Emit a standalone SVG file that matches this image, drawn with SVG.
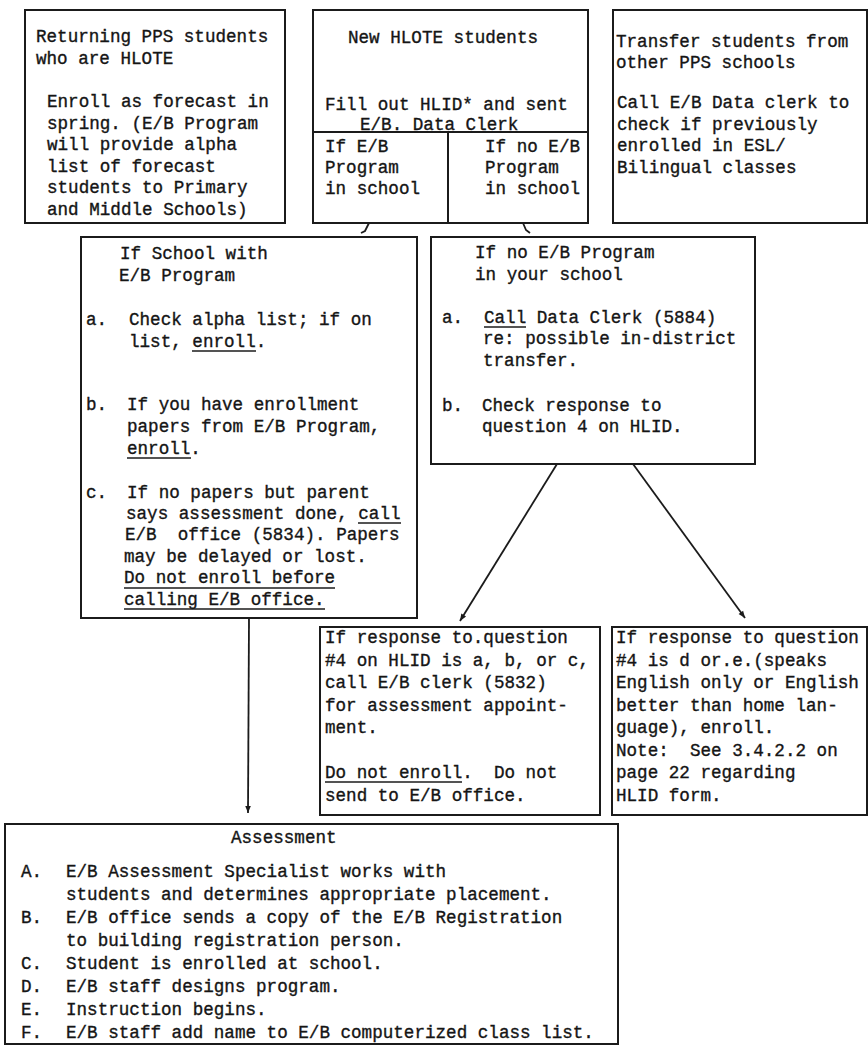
<svg xmlns="http://www.w3.org/2000/svg" width="868" height="1048" viewBox="0 0 868 1048">
<style>
.box{fill:none;stroke:#1b1b1b;stroke-width:2}
.t{font-family:"Liberation Mono","DejaVu Sans Mono",monospace;font-size:17.6px;fill:#151515;stroke:#151515;stroke-width:0.35;white-space:pre}
.u{stroke:#1b1b1b;stroke-width:1.6}
.c{fill:none;stroke:#1b1b1b;stroke-width:1.8}
</style>
<defs>
<marker id="ah" viewBox="0 0 10 10" refX="10" refY="5" markerWidth="9" markerHeight="7" orient="auto" markerUnits="userSpaceOnUse">
<path d="M0,1 L10,5 L0,9 z" fill="#1b1b1b"/>
</marker>
</defs>
<rect width="868" height="1048" fill="#fff"/>

<g id="returning">
<rect class="box" x="25" y="10" width="260" height="213"/>
<text class="t" x="36" y="42">Returning PPS students</text>
<text class="t" x="36" y="64">who are HLOTE</text>
<text class="t" x="47" y="107">Enroll as forecast in</text>
<text class="t" x="47" y="128.5">spring. (E/B Program</text>
<text class="t" x="47" y="150">will provide alpha</text>
<text class="t" x="47" y="171.5">list of forecast</text>
<text class="t" x="47" y="193">students to Primary</text>
<text class="t" x="47" y="214.5">and Middle Schools)</text>
</g>

<g id="new-hlote">
<rect class="box" x="313" y="10" width="275" height="213"/>
<line class="box" x1="313" y1="132" x2="588" y2="132"/>
<line class="box" x1="448" y1="132" x2="448" y2="223"/>
<text class="t" x="348" y="43">New HLOTE students</text>
<text class="t" x="325" y="110">Fill out HLID* and sent</text>
<text class="t" x="360" y="130">E/B. Data Clerk</text>
<text class="t" x="325" y="152">If E/B</text>
<text class="t" x="325" y="173">Program</text>
<text class="t" x="325" y="194">in school</text>
<text class="t" x="485" y="152">If no E/B</text>
<text class="t" x="485" y="173">Program</text>
<text class="t" x="485" y="194">in school</text>
</g>

<g id="transfer">
<rect class="box" x="613" y="10" width="254" height="213"/>
<text class="t" x="616" y="47">Transfer students from</text>
<text class="t" x="616" y="68">other PPS schools</text>
<text class="t" x="617" y="108">Call E/B Data clerk to</text>
<text class="t" x="617" y="130">check if previously</text>
<text class="t" x="617" y="151">enrolled in ESL/</text>
<text class="t" x="617" y="173">Bilingual classes</text>
</g>

<g id="school-with-eb">
<rect class="box" x="81" y="237" width="336" height="381"/>
<text class="t" x="120" y="259">If School with</text>
<text class="t" x="119" y="281">E/B Program</text>
<text class="t" x="86" y="325">a.</text>
<text class="t" x="129" y="325">Check alpha list; if on</text>
<text class="t" x="129" y="347">list, enroll.</text>
<line class="u" x1="192" y1="351" x2="256" y2="351"/>
<text class="t" x="86" y="410">b.</text>
<text class="t" x="127" y="410">If you have enrollment</text>
<text class="t" x="127" y="432">papers from E/B Program,</text>
<text class="t" x="127" y="454">enroll.</text>
<line class="u" x1="127" y1="458" x2="191" y2="458"/>
<text class="t" x="86" y="498">c.</text>
<text class="t" x="127" y="498">If no papers but parent</text>
<text class="t" x="126" y="519">says assessment done, call</text>
<line class="u" x1="358" y1="523" x2="401" y2="523"/>
<text class="t" x="125" y="540">E/B  office (5834). Papers</text>
<text class="t" x="124" y="562">may be delayed or lost.</text>
<text class="t" x="124" y="583">Do not enroll before</text>
<line class="u" x1="124" y1="588" x2="335" y2="588"/>
<text class="t" x="124" y="605">calling E/B office.</text>
<line class="u" x1="124" y1="609" x2="325" y2="609"/>
</g>

<g id="no-eb-program">
<rect class="box" x="431" y="237" width="324" height="227"/>
<text class="t" x="475" y="258">If no E/B Program</text>
<text class="t" x="475" y="280">in your school</text>
<text class="t" x="442" y="323">a.</text>
<text class="t" x="484" y="323">Call Data Clerk (5884)</text>
<line class="u" x1="484" y1="327" x2="526" y2="327"/>
<text class="t" x="483" y="344">re: possible in-district</text>
<text class="t" x="483" y="366">transfer.</text>
<text class="t" x="442" y="411">b.</text>
<text class="t" x="482" y="411">Check response to</text>
<text class="t" x="482" y="432">question 4 on HLID.</text>
</g>

<g id="response-abc">
<rect class="box" x="320" y="627" width="280" height="188"/>
<text class="t" x="325" y="643">If response to.question</text>
<text class="t" x="325" y="665.5">#4 on HLID is a, b, or c,</text>
<text class="t" x="325" y="688">call E/B clerk (5832)</text>
<text class="t" x="325" y="710.5">for assessment appoint-</text>
<text class="t" x="325" y="733">ment.</text>
<text class="t" x="325" y="778">Do not enroll.  Do not</text>
<line class="u" x1="325" y1="782" x2="462" y2="782"/>
<text class="t" x="325" y="800.5">send to E/B office.</text>
</g>

<g id="response-de">
<rect class="box" x="612" y="627" width="255" height="188"/>
<text class="t" x="616" y="643">If response to question</text>
<text class="t" x="616" y="665.5">#4 is d or.e.(speaks</text>
<text class="t" x="616" y="688">English only or English</text>
<text class="t" x="616" y="710.5">better than home lan-</text>
<text class="t" x="616" y="733">guage), enroll.</text>
<text class="t" x="616" y="755.5">Note:  See 3.4.2.2 on</text>
<text class="t" x="616" y="778">page 22 regarding</text>
<text class="t" x="616" y="800.5">HLID form.</text>
</g>

<g id="assessment">
<rect class="box" x="5" y="824" width="613" height="220"/>
<text class="t" x="231" y="843">Assessment</text>
<text class="t" x="21" y="877">A.</text>
<text class="t" x="66" y="877">E/B Assessment Specialist works with</text>
<text class="t" x="66" y="900">students and determines appropriate placement.</text>
<text class="t" x="21" y="923">B.</text>
<text class="t" x="66" y="923">E/B office sends a copy of the E/B Registration</text>
<text class="t" x="66" y="946">to building registration person.</text>
<text class="t" x="21" y="969">C.</text>
<text class="t" x="66" y="969">Student is enrolled at school.</text>
<text class="t" x="21" y="992">D.</text>
<text class="t" x="66" y="992">E/B staff designs program.</text>
<text class="t" x="21" y="1015">E.</text>
<text class="t" x="66" y="1015">Instruction begins.</text>
<text class="t" x="21" y="1038">F.</text>
<text class="t" x="66" y="1038">E/B staff add name to E/B computerized class list.</text>
</g>

<g id="connectors">
<path class="c" d="M369,223 L365,231 L361,233"/>
<path class="c" d="M523,223 L526,230 L530,233"/>
<line class="c" x1="557" y1="464" x2="460" y2="621" marker-end="url(#ah)"/>
<line class="c" x1="633" y1="464" x2="745" y2="618" marker-end="url(#ah)"/>
<line class="c" x1="249" y1="618" x2="248" y2="813" marker-end="url(#ah)"/>
</g>
</svg>
